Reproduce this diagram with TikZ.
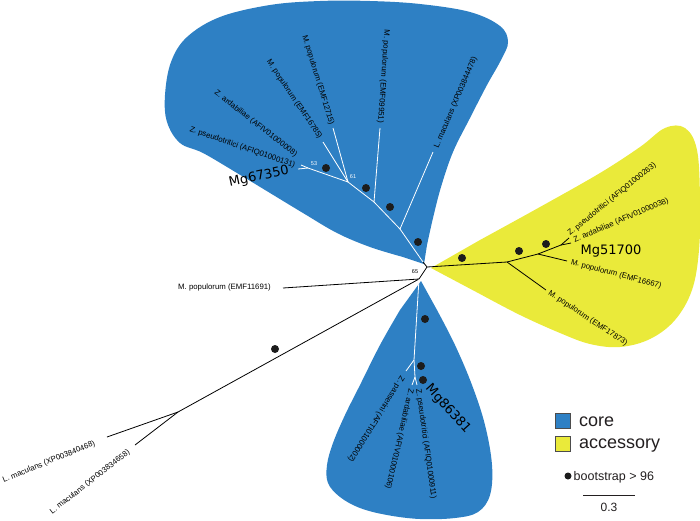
\documentclass[tikz,border=0pt]{standalone}
\usepackage{fontspec}
\setmainfont{Liberation Sans}
\newfontfamily\mgfont{DejaVu Sans}
\definecolor{coreblue}{RGB}{46,128,196}
\definecolor{accyellow}{RGB}{234,234,58}
\definecolor{bsgray}{RGB}{28,28,28}
\definecolor{legtext}{RGB}{35,31,32}

\begin{document}
\begin{tikzpicture}[x=1pt,y=-1pt,
    lbl/.style={inner sep=1pt,font=\fontsize{7.8}{9}\selectfont},
    mg/.style={inner sep=0pt,font=\mgfont\fontsize{13}{15}\selectfont},
    wbr/.style={draw=white,line width=0.8pt},
    kbr/.style={draw=black,line width=0.8pt},
    bsdot/.style={circle,fill=bsgray,inner sep=0pt,minimum size=8pt},
    nlbl/.style={inner sep=0pt,font=\fontsize{5.5}{6}\selectfont},
    keybox/.style={draw=black!70,line width=0.4pt,minimum size=15pt,inner sep=0pt}]
  \useasboundingbox (0,0) rectangle (700,520);

  \fill[coreblue] (424,264) -- plot[smooth,tension=0.6] coordinates {(403,257) (370,247) (337,233) (303,213) (270,193) (237,173) (203,153) (180,143) (167,122) (165,95) (171,62) (187,37) (220,17) (270,5) (320,1) (370,1) (420,4) (470,12) (500,26) (508,42) (501,60) (487,85) (470,118) (453,152) (441,187) (433,218) (427,245)} -- cycle;
  \fill[accyellow] (431,268) -- plot[smooth,tension=0.6] coordinates {(480,240) (540,207) (600,173) (640,147) (665,128) (685,128) (697,150) (700,200) (699,250) (692,290) (675,320) (650,339) (620,347) (590,344) (560,333) (520,315) (480,294)} -- cycle;
  \fill[coreblue] (421,281) -- plot[smooth,tension=0.6] coordinates {(437,310) (455,345) (472,385) (485,425) (492,465) (490,495) (478,512) (455,518) (420,519) (387,515) (360,508) (340,497) (328,483) (327,465) (333,443) (345,415) (360,385) (380,345) (400,310)} -- cycle;

  \coordinate (root) at (427,267);
  \coordinate (top) at (423,262);
  \coordinate (low) at (419,279);
  \coordinate (nA) at (400,229);
  \coordinate (nB) at (374,202);
  \coordinate (nC) at (348,182);
  \coordinate (nD) at (308,168);
  \coordinate (nE) at (507,262);
  \coordinate (nF) at (538,254);
  \coordinate (nG) at (561,245);
  \coordinate (nH) at (178,412);
  \coordinate (nI) at (414,360);
  \coordinate (nJ) at (415,377);
  \coordinate (lfLmA) at (433,152);
  \coordinate (lfMpA) at (380,128);
  \coordinate (lfMpB) at (333,128);
  \coordinate (lfMpC) at (323,142);
  \coordinate (lfZaA) at (301,165);
  \coordinate (lfZpA) at (298,169);
  \coordinate (lfZpB) at (569,238);
  \coordinate (lfZaB) at (571,243);
  \coordinate (lfMpD) at (567,261);
  \coordinate (lfMpE) at (546,290);
  \coordinate (lfMpF) at (283,288);
  \coordinate (lfLmB) at (107,437);
  \coordinate (lfLmC) at (135,445);
  \coordinate (lfZsC) at (406,371);
  \coordinate (lfZaC) at (412,385);
  \coordinate (lfZpC) at (417,385);

  \draw[kbr] (top) -- (root);
  \draw[kbr] (root) -- (low);
  \draw[kbr] (root) -- (nE);
  \draw[wbr] (top) -- (nA);
  \draw[wbr] (nA) -- (lfLmA);
  \draw[wbr] (nA) -- (nB);
  \draw[wbr] (nB) -- (lfMpA);
  \draw[wbr] (nB) -- (nC);
  \draw[wbr] (nC) -- (lfMpB);
  \draw[wbr] (nC) -- (lfMpC);
  \draw[wbr] (nC) -- (nD);
  \draw[wbr] (nD) -- (lfZaA);
  \draw[wbr] (nD) -- (lfZpA);
  \draw[kbr] (nE) -- (lfMpE);
  \draw[kbr] (nE) -- (nF);
  \draw[kbr] (nF) -- (lfMpD);
  \draw[kbr] (nF) -- (nG);
  \draw[kbr] (nG) -- (lfZpB);
  \draw[kbr] (nG) -- (lfZaB);
  \draw[kbr] (low) -- (lfMpF);
  \draw[kbr] (low) -- (nH);
  \draw[kbr] (nH) -- (lfLmB);
  \draw[kbr] (nH) -- (lfLmC);
  \draw[wbr] (low) -- (nI);
  \draw[wbr] (nI) -- (lfZsC);
  \draw[wbr] (nI) -- (nJ);
  \draw[wbr] (nJ) -- (lfZaC);
  \draw[wbr] (nJ) -- (lfZpC);

  \node[bsdot] (bs1) at (418,242) {};
  \node[bsdot] (bs2) at (390,207) {};
  \node[bsdot] (bs3) at (366,188) {};
  \node[bsdot] (bs4) at (326,168) {};
  \node[bsdot] (bs5) at (462,258) {};
  \node[bsdot] (bs6) at (519,251) {};
  \node[bsdot] (bs7) at (546,244) {};
  \node[bsdot] (bs8) at (275,349) {};
  \node[bsdot] (bs9) at (425,319) {};
  \node[bsdot] (bs10) at (421,366) {};
  \node[bsdot] (bs11) at (423,380) {};

  \node[nlbl] (sup65) at (415,272) {65};
  \node[nlbl,text=white] (sup61) at (353,177) {61};
  \node[nlbl,text=white] (sup53) at (314,164) {53};

  \node[lbl,anchor=west,rotate=67] (tLmA) at (436,149) {L. maculans (XP003844478)};
  \node[lbl,anchor=east,rotate=-94] (tMpA) at (380,124) {M. populorum (EMF09951)};
  \node[lbl,anchor=east,rotate=-73] (tMpB) at (332,126) {M. populorum (EMF12715)};
  \node[lbl,anchor=east,rotate=-56] (tMpC) at (321,139) {M. populorum (EMF16785)};
  \node[lbl,anchor=east,rotate=-38] (tZaA) at (297,156) {Z. ardabiliae (AFIV01000008)};
  \node[lbl,anchor=east,rotate=-19] (tZpA) at (296,166) {Z. pseudotritici (AFIQ01000131)};
  \node[mg,rotate=12] (tMg67350) at (259,177) {Mg67350};

  \node[lbl,anchor=west,rotate=39] (tZpB) at (568,235) {Z. pseudotritici (AFIQ01000263)};
  \node[lbl,anchor=west,rotate=23] (tZaB) at (573,241) {Z. ardabiliae (AFIV01000038)};
  \node[mg] (tMg51700) at (611,251) {Mg51700};
  \node[lbl,anchor=west,rotate=-15] (tMpD) at (570,262) {M. populorum (EMF16667)};
  \node[lbl,anchor=west,rotate=-33.5] (tMpE) at (548,292) {M. populorum (EMF17873)};

  \node[lbl,anchor=east] (tMpF) at (272,287) {M. populorum (EMF11691)};
  \node[lbl,anchor=east,rotate=22] (tLmB) at (96,443) {L. maculans (XP003840468)};
  \node[lbl,anchor=east,rotate=38] (tLmC) at (130,451) {L. maculans (XP003834658)};

  \node[lbl,anchor=west,rotate=-122] (tZsC) at (403,376) {Z. passerini (AFTI01000002)};
  \node[lbl,anchor=west,rotate=-103] (tZaC) at (411,388) {Z. ardabiliae (AFIV01000106)};
  \node[lbl,anchor=west,rotate=-82] (tZpC) at (418,388) {Z. pseudotritici (AFIQ01000911)};
  \node[mg,rotate=-48] (tMg86381) at (448,409) {Mg86381};

  \node[keybox,fill=coreblue] (keycore) at (562.5,420.5) {};
  \node[keybox,fill=accyellow] (keyacc) at (562.5,443.5) {};
  \node[anchor=base west,inner sep=0pt,text=legtext,font=\fontsize{18}{20}\selectfont] (keycoretxt) at (579,426) {core};
  \node[anchor=base west,inner sep=0pt,text=legtext,font=\fontsize{18}{20}\selectfont] (keyacctxt) at (579,448) {accessory};
  \node[bsdot,minimum size=7pt] (keydot) at (568,476) {};
  \node[anchor=base west,inner sep=0pt,text=legtext,font=\fontsize{12.5}{14}\selectfont] (keydottxt) at (573.5,480) {bootstrap > 96};
  \coordinate (sbl) at (583,495);
  \coordinate (sbr) at (635,495);
  \draw[line width=0.7pt,legtext] (sbl) -- (sbr);
  \node[inner sep=0pt,text=legtext,font=\fontsize{12}{14}\selectfont] (sbtxt) at (609,507) {0.3};
\end{tikzpicture}
\end{document}
